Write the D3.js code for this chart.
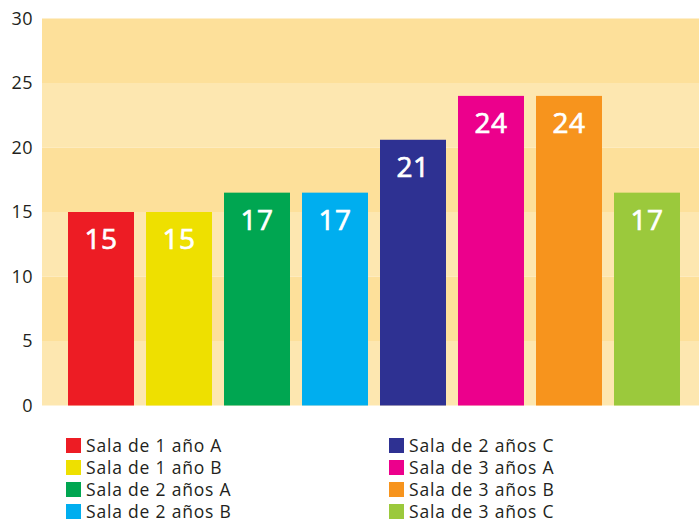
<!DOCTYPE html>
<html lang="es">

<head>
  <meta charset="utf-8">
  <title>Salas</title>
  <script src="https://d3js.org/d3.v7.min.js"></script>
  <style>
    body { margin: 0; background: #fff; }
    #chart text { font-family: "Open Sans", sans-serif; }
    .eje text { font-size: 18px; fill: #231f20; letter-spacing: 0.5px; }
    .leyenda text { font-size: 17.5px; fill: #231f20; letter-spacing: 0.8px; }
    .valor { font-size: 28px; fill: #fff; stroke: #fff; stroke-width: 0.7px; text-anchor: middle; letter-spacing: 0.5px; }
  </style>
</head>

<body>
  <div id="chart"></div>

  <script>
    "use strict"

    // datos
    var salas = ["Sala de 1 año A", "Sala de 1 año B", "Sala de 2 años A", "Sala de 2 años B",
                 "Sala de 2 años C", "Sala de 3 años A", "Sala de 3 años B", "Sala de 3 años C"];
    var valores = [15, 15, 16.5, 16.5, 20.6, 24, 24, 16.5];
    var etiquetas = ["15", "15", "17", "17", "21", "24", "24", "17"];
    var colores = ["#ed1c24", "#eee000", "#00a651", "#00aeef", "#2e3192", "#ec008c", "#f7941d", "#9bc93c"];
    var ticksY = [0, 5, 10, 15, 20, 25, 30];

    var larguraSVG = 699, alturaSVG = 519;

    var svg = d3.select('#chart')
      .append('svg')
        .attr('width', larguraSVG)
        .attr('height', alturaSVG);

    var x = d3.scaleBand()
              .domain(salas)
              .range([56, 692])
              .paddingInner(0.154)
              .paddingOuter(0.154);

    var y = d3.scaleLinear()
              .domain([0, 30])
              .range([405.5, 18.5]);

    // franjas de fondo
    var franjas = d3.pairs(ticksY);
    svg.append('g')
      .selectAll('rect')
      .data(franjas)
      .enter()
        .append('rect')
          .attr('x', 42)
          .attr('width', larguraSVG - 42)
          .attr('y', d => y(d[1]))
          .attr('height', d => y(d[0]) - y(d[1]))
          .attr('fill', (d, i) => i % 2 == 0 ? '#fde7b0' : '#fde09a');

    // eje y
    var eje = svg.append('g')
      .attr('class', 'eje')
      .attr('transform', 'translate(42,0)')
      .call(d3.axisLeft(y).tickValues(ticksY).tickSize(0).tickPadding(9));
    eje.select('.domain').remove();

    // barras
    svg.append('g')
      .selectAll('rect')
      .data(valores)
      .enter()
        .append('rect')
          .attr('x', (d, i) => x(salas[i]))
          .attr('width', x.bandwidth())
          .attr('y', d => y(d))
          .attr('height', d => y(0) - y(d))
          .attr('fill', (d, i) => colores[i]);

    svg.append('g')
      .selectAll('text')
      .data(valores)
      .enter()
        .append('text')
          .attr('class', 'valor')
          .attr('x', (d, i) => x(salas[i]) + x.bandwidth() / 2)
          .attr('y', d => y(d) + 37)
          .text((d, i) => etiquetas[i]);

    // leyenda
    var leyenda = svg.append('g').attr('class', 'leyenda');
    var item = leyenda.selectAll('g')
      .data(salas)
      .enter()
        .append('g')
          .attr('transform', (d, i) => 'translate(' + (i < 4 ? 66 : 389) + ',' + (438 + (i % 4) * 22) + ')');

    item.append('rect')
      .attr('width', 15)
      .attr('height', 15)
      .attr('fill', (d, i) => colores[i]);

    item.append('text')
      .attr('x', 20)
      .attr('y', 14)
      .text(d => d);
  </script>
</body>

</html>
